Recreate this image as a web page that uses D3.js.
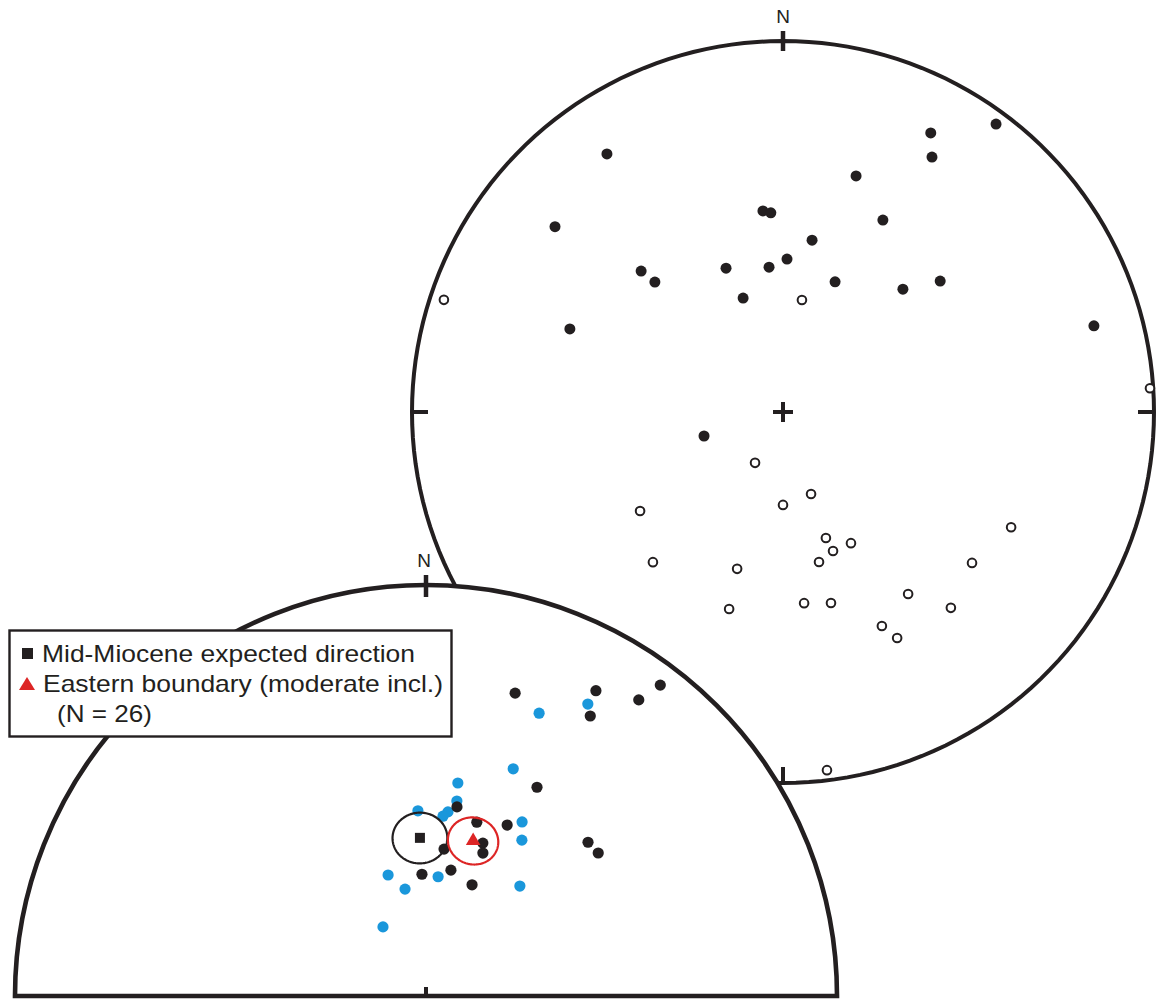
<!DOCTYPE html>
<html>
<head>
<meta charset="utf-8">
<script src="https://cdn.jsdelivr.net/npm/d3@7"></script>
<style>
  body { margin: 0; background: #ffffff; }
  text { font-family: "Liberation Sans", Arial, Helvetica, sans-serif; fill: #231f20; }
</style>
</head>
<body>
<svg id="chart" width="1158" height="1000"></svg>
<script>
// Site-mean palaeomagnetic directions: [declination, inclination] in degrees.
// Upper net: all sites. Positive inclination = lower hemisphere (filled).
const allSitesDown = [
  [325.7, 16.9], [27.9, 16.0], [36.5, 3.9], [30.3, 21.5], [17.2, 33.8],
  [309.1, 21.9], [354.3, 44.7], [356.5, 45.3], [27.5, 41.3], [9.6, 51.2],
  [314.8, 45.2], [315.4, 49.3], [338.4, 55.7], [354.5, 57.8], [1.5, 56.1],
  [21.8, 59.0], [44.3, 51.8], [50.2, 44.1], [340.7, 63.4], [291.3, 38.3],
  [74.5, 14.1], [253.1, 71.9]
];
// Negative inclination = upper hemisphere (open).
const allSitesUp = [
  [288.3, -4.2], [9.6, -65.0], [86.3, -1.0], [208.8, -77.3], [161.1, -71.0],
  [180.0, -69.6], [235.3, -51.3], [116.8, -31.7], [161.2, -60.6], [152.6, -57.3],
  [160.2, -57.3], [166.5, -55.8], [220.9, -45.5], [196.3, -53.7], [128.6, -35.1],
  [145.5, -40.2], [195.3, -44.2], [173.7, -47.0], [165.9, -45.9], [139.4, -31.1],
  [155.2, -36.6], [153.2, -32.3], [173.0, -3.1]
];
// Lower net: eastern boundary sites, two site groups.
const eastSitesA = [
  [16.4, 24.2], [29.1, 16.1], [37.0, 5.9], [35.7, 12.3], [30.4, 22.1],
  [28.0, 42.0], [9.3, 51.5], [16.3, 53.7], [25.4, 52.0], [20.4, 57.4],
  [21.7, 59.3], [7.0, 60.5], [358.1, 65.8], [11.2, 64.5], [22.5, 66.1],
  [46.5, 44.8], [50.3, 44.7]
];
const eastSitesB = [
  [21.8, 26.8], [29.0, 19.9], [21.0, 40.5], [8.5, 46.5], [9.0, 50.3],
  [6.8, 52.8], [5.4, 53.8], [357.5, 52.8], [28.9, 50.0], [31.6, 53.3],
  [342.6, 64.8], [348.9, 68.4], [5.8, 66.2], [40.5, 61.2], [328.1, 73.9]
];
// Mean directions: [declination, inclination, alpha95]
const expectedMean = [357.8, 58.4, 5.2];
const eastMean = [16.9, 57.6, 4.8];
const legendLabels = [
  "Mid-Miocene expected direction",
  "Eastern boundary (moderate incl.)",
  "(N = 26)"
];
const northLabel = "N";

const INK = "#231f20";
const BLUE = "#1a97db";
const RED = "#dd2525";

const svg = d3.select("#chart");

// Equal-area (Schmidt) net: north up, declination clockwise.
function schmidt(cx, cy, R) {
  return d3.geoAzimuthalEqualArea()
    .rotate([0, -90])
    .clipAngle(90)
    .scale(R / Math.SQRT2)
    .translate([cx, cy])
    .precision(0.1);
}
const toSphere = d => [180 - d[0], Math.abs(d[1])];

function tick(g, proj, c, R, dec, inward, outward, w) {
  const p = proj(toSphere([dec, 0]));
  const ux = (p[0] - c[0]) / R, uy = (p[1] - c[1]) / R;
  g.append("line")
    .attr("x1", p[0] + ux * outward).attr("y1", p[1] + uy * outward)
    .attr("x2", p[0] - ux * inward).attr("y2", p[1] - uy * inward)
    .attr("stroke", INK).attr("stroke-width", w);
}

// ---------- Upper net (all sites) ----------
const bigC = [783, 412], bigR = 371;
const bigProj = schmidt(bigC[0], bigC[1], bigR);
const bigPath = d3.geoPath(bigProj);
const big = svg.append("g");

big.append("path")
  .attr("d", bigPath({ type: "Sphere" }))
  .attr("fill", "none").attr("stroke", INK).attr("stroke-width", 4);

tick(big, bigProj, bigC, bigR, 0, 10, 10, 4.5);
tick(big, bigProj, bigC, bigR, 90, 16, 0, 4);
tick(big, bigProj, bigC, bigR, 180, 16, 0, 4);
tick(big, bigProj, bigC, bigR, 270, 16, 0, 4);

big.append("text")
  .attr("x", bigC[0]).attr("y", bigC[1] - bigR - 18)
  .attr("text-anchor", "middle").attr("font-size", 19)
  .text(northLabel);

// centre cross
big.append("path")
  .attr("d", `M${bigC[0] - 10},${bigC[1]}H${bigC[0] + 10}M${bigC[0]},${bigC[1] - 10}V${bigC[1] + 10}`)
  .attr("stroke", INK).attr("stroke-width", 4).attr("fill", "none");

big.selectAll("circle.down").data(allSitesDown).join("circle")
  .attr("class", "down")
  .attr("cx", d => bigProj(toSphere(d))[0])
  .attr("cy", d => bigProj(toSphere(d))[1])
  .attr("r", 5.5).attr("fill", INK);

big.selectAll("circle.up").data(allSitesUp).join("circle")
  .attr("class", "up")
  .attr("cx", d => bigProj(toSphere(d))[0])
  .attr("cy", d => bigProj(toSphere(d))[1])
  .attr("r", 4.3).attr("fill", "#fff").attr("stroke", INK).attr("stroke-width", 2);

// ---------- Lower net (eastern boundary, northern half) ----------
const smC = [426, 996], smR = 411;
const smProj = schmidt(smC[0], smC[1], smR);
const smPath = d3.geoPath(smProj);
const sm = svg.append("g");

const half = d3.path();
half.moveTo(smC[0] - smR, smC[1]);
half.arc(smC[0], smC[1], smR, Math.PI, 2 * Math.PI);
half.closePath();
sm.append("path")
  .attr("d", half.toString())
  .attr("fill", "#fff").attr("stroke", INK).attr("stroke-width", 4.6)
  .attr("stroke-linejoin", "miter");

tick(sm, smProj, smC, smR, 0, 12, 10, 4.5);
sm.append("line")
  .attr("x1", smC[0]).attr("y1", smC[1])
  .attr("x2", smC[0]).attr("y2", smC[1] - 9)
  .attr("stroke", INK).attr("stroke-width", 4);

sm.append("text")
  .attr("x", smC[0] - 2).attr("y", smC[1] - smR - 18)
  .attr("text-anchor", "middle").attr("font-size", 19)
  .text(northLabel);

sm.selectAll("circle.b").data(eastSitesB).join("circle")
  .attr("class", "b")
  .attr("cx", d => smProj(toSphere(d))[0])
  .attr("cy", d => smProj(toSphere(d))[1])
  .attr("r", 5.6).attr("fill", BLUE);

sm.selectAll("circle.a").data(eastSitesA).join("circle")
  .attr("class", "a")
  .attr("cx", d => smProj(toSphere(d))[0])
  .attr("cy", d => smProj(toSphere(d))[1])
  .attr("r", 5.6).attr("fill", INK);

// expected direction with its cone of confidence
const ePt = smProj(toSphere(expectedMean));
sm.append("path")
  .attr("d", smPath(d3.geoCircle().center(toSphere(expectedMean)).radius(expectedMean[2])()))
  .attr("fill", "none").attr("stroke", INK).attr("stroke-width", 2.2);
sm.append("rect")
  .attr("x", ePt[0] - 5).attr("y", ePt[1] - 5)
  .attr("width", 10).attr("height", 10).attr("fill", INK);

// eastern boundary mean with alpha95
const mPt = smProj(toSphere(eastMean));
sm.append("path")
  .attr("d", smPath(d3.geoCircle().center(toSphere(eastMean)).radius(eastMean[2])()))
  .attr("fill", "none").attr("stroke", RED).attr("stroke-width", 2.2);
sm.append("path")
  .attr("d", d3.symbol(d3.symbolTriangle, 92)())
  .attr("transform", `translate(${mPt[0]},${mPt[1]})`)
  .attr("fill", RED);

// ---------- Legend ----------
const lg = svg.append("g");
lg.append("rect")
  .attr("x", 9.5).attr("y", 630.5).attr("width", 442).attr("height", 106)
  .attr("fill", "#fff").attr("stroke", INK).attr("stroke-width", 2.4);

lg.append("rect").attr("x", 22).attr("y", 648).attr("width", 11).attr("height", 11).attr("fill", INK);
lg.append("path").attr("d", "M19,690L27,677L35,690Z").attr("fill", RED);

const lgPos = [[42, 662, 373], [43, 692, 400], [57, 722, 95]];
lg.selectAll("text").data(legendLabels).join("text")
  .attr("x", (d, i) => lgPos[i][0])
  .attr("y", (d, i) => lgPos[i][1])
  .attr("font-size", 24)
  .attr("textLength", (d, i) => lgPos[i][2])
  .attr("lengthAdjust", "spacingAndGlyphs")
  .text(d => d);
</script>
</body>
</html>
